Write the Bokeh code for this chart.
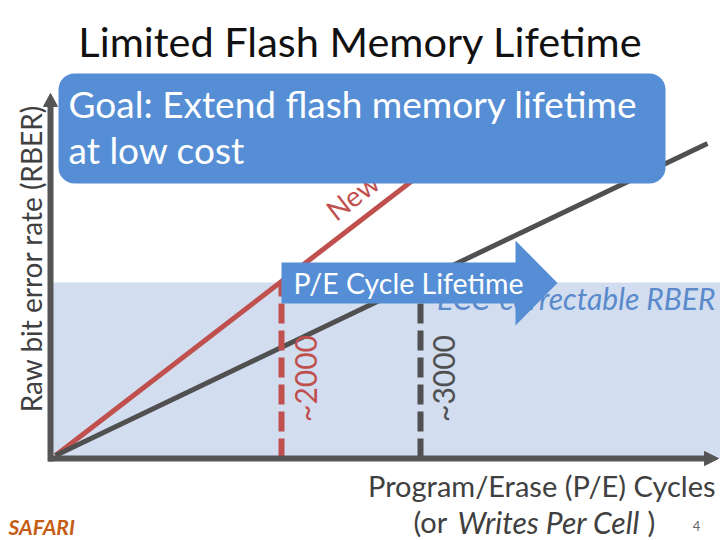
import math
from bokeh.plotting import figure
from bokeh.models import Range1d
from bokeh.core.properties import value
from bokeh.embed import file_html
from bokeh.resources import INLINE

# ---- data (conceptual units: x = P/E cycles, y = raw bit error rate) ----
new_cycles = [0, 470]
new_rber = [0, 362]
old_cycles = [0, 652]
old_rber = [0, 312]
ecc_limit = 173                      # ECC-correctable RBER level
lifetime_cycles = [226, 365]         # where each curve hits the ECC limit
lifetime_labels = ["~2000", "~3000"]
x_max = 665
y_axis_top = 362

title_text = "Limited Flash Memory Lifetime"
goal_lines = ["Goal: Extend flash memory lifetime", "at low cost"]
arrow_text = "P/E Cycle Lifetime"
ecc_text = "ECC-correctable RBER"
y_label = "Raw bit error rate (RBER)"
x_label_1 = "Program/Erase (P/E) Cycles"

FONT = "Lato"
RED = "#c0504d"
DARK = "#555555"
LINE_DARK = "#505050"
BLUE = "#558ed5"
LIGHT_BLUE = "#d2def0"
TXT = "#404040"

p = figure(width=720, height=540, output_backend="svg", toolbar_location=None,
           x_range=Range1d(-55, 665), y_range=Range1d(-85, 455),
           min_border=0, min_border_left=0, min_border_right=0,
           min_border_top=0, min_border_bottom=0)
p.axis.visible = False
p.grid.visible = False
p.outline_line_color = None
p.background_fill_color = "white"

# ECC-correctable region
p.quad(left=-5, right=x_max, bottom=-3, top=ecc_limit, fill_color=LIGHT_BLUE, line_color=None)

# RBER curves
p.line(new_cycles, new_rber, line_color=RED, line_width=5)
p.line(old_cycles, old_rber, line_color=LINE_DARK, line_width=5)

# lifetime markers
for xc, col in zip(lifetime_cycles, [RED, LINE_DARK]):
    p.line([xc, xc], [-3, ecc_limit], line_color=col, line_width=6, line_dash="20 7")

# lifetime labels
p.text(x=[lifetime_cycles[0] + 23], y=[77], text=[lifetime_labels[0]], angle=math.pi / 2,
       text_align="center", text_baseline="middle", text_color=RED,
       text_font=value(FONT), text_font_size="30px")
p.text(x=[lifetime_cycles[1] + 22], y=[77], text=[lifetime_labels[1]], angle=math.pi / 2,
       text_align="center", text_baseline="middle", text_color=LINE_DARK,
       text_font=value(FONT), text_font_size="30px")

# ECC label
p.text(x=[x_max - 5], y=[158], text=[ecc_text], text_align="right", text_baseline="alphabetic",
       text_color="#5a8acb", text_font=value(FONT), text_font_style="italic", text_font_size="30px")

# "New" label along red line
ang = math.atan2(new_rber[1], new_cycles[1])
p.text(x=[274], y=[242], text=["New"], angle=ang, text_align="left", text_baseline="alphabetic",
       text_color=RED, text_font=value(FONT), text_font_size="28px")

# axes with arrow heads
p.line([-5, -5], [-6, y_axis_top - 12], line_color=DARK, line_width=6)
p.patch([-12, 2, -5], [y_axis_top - 13, y_axis_top - 13, y_axis_top], fill_color=DARK, line_color=DARK)
p.line([-7, x_max - 15], [-3, -3], line_color=DARK, line_width=6)
p.patch([x_max - 16, x_max - 16, x_max - 2], [-10, 4, -3], fill_color=DARK, line_color=DARK)

# P/E cycle lifetime arrow
ax0 = lifetime_cycles[0]
body_top, body_bot = 193, 152
head_top, head_bot = 215, 130
head_x, tip_x = 460, 502
p.patch([ax0, head_x, head_x, tip_x, head_x, head_x, ax0],
        [body_top, body_top, head_top, (body_top + body_bot) / 2, head_bot, body_bot, body_bot],
        fill_color=BLUE, line_color=None)
p.text(x=[ax0 + 12], y=[173], text=[arrow_text], text_align="left", text_baseline="alphabetic",
       text_color="white", text_font=value(FONT), text_font_size="28.5px")

# goal box
p.quad(left=3, right=610, bottom=272, top=382, fill_color=BLUE, line_color=None, border_radius=16)
p.text(x=[13], y=[352], text=[goal_lines[0]], text_align="left", text_baseline="alphabetic",
       text_color="white", text_font=value(FONT), text_font_size="37px")
p.text(x=[13], y=[306], text=[goal_lines[1]], text_align="left", text_baseline="alphabetic",
       text_color="white", text_font=value(FONT), text_font_size="37px")

# title
p.text(x=[305], y=[415], text=[title_text], text_align="center", text_baseline="alphabetic",
       text_color="#111111", text_font=value(FONT), text_font_size="41.5px")

# y label
p.text(x=[-25], y=[197], text=[y_label], angle=math.pi / 2, text_align="center", text_baseline="middle",
       text_color=TXT, text_font=value(FONT), text_font_size="28px")

# x label
p.text(x=[x_max - 5], y=[-30], text=[x_label_1], text_align="right", text_baseline="alphabetic",
       text_color=TXT, text_font=value(FONT), text_font_size="29px")
p.text(x=[358], y=[-66], text=["(or"], text_align="left", text_baseline="alphabetic",
       text_color=TXT, text_font=value(FONT), text_font_size="29px")
p.text(x=[402], y=[-66], text=["Writes Per Cell"], text_align="left", text_baseline="alphabetic",
       text_color=TXT, text_font=value(FONT), text_font_style="italic", text_font_size="30px")
p.text(x=[592], y=[-66], text=[")"], text_align="left", text_baseline="alphabetic",
       text_color=TXT, text_font=value(FONT), text_font_size="29px")

# slide number and logo
p.text(x=[641], y=[-70], text=["4"], text_align="center", text_baseline="alphabetic",
       text_color="#666666", text_font=value(FONT), text_font_size="13px")
p.text(x=[-47], y=[-71], text=["SAFARI"], text_align="left", text_baseline="alphabetic",
       text_color="#c65c14", text_font=value(FONT), text_font_style="bold italic", text_font_size="21px")

open("out.html", "w").write(file_html(p, INLINE))
